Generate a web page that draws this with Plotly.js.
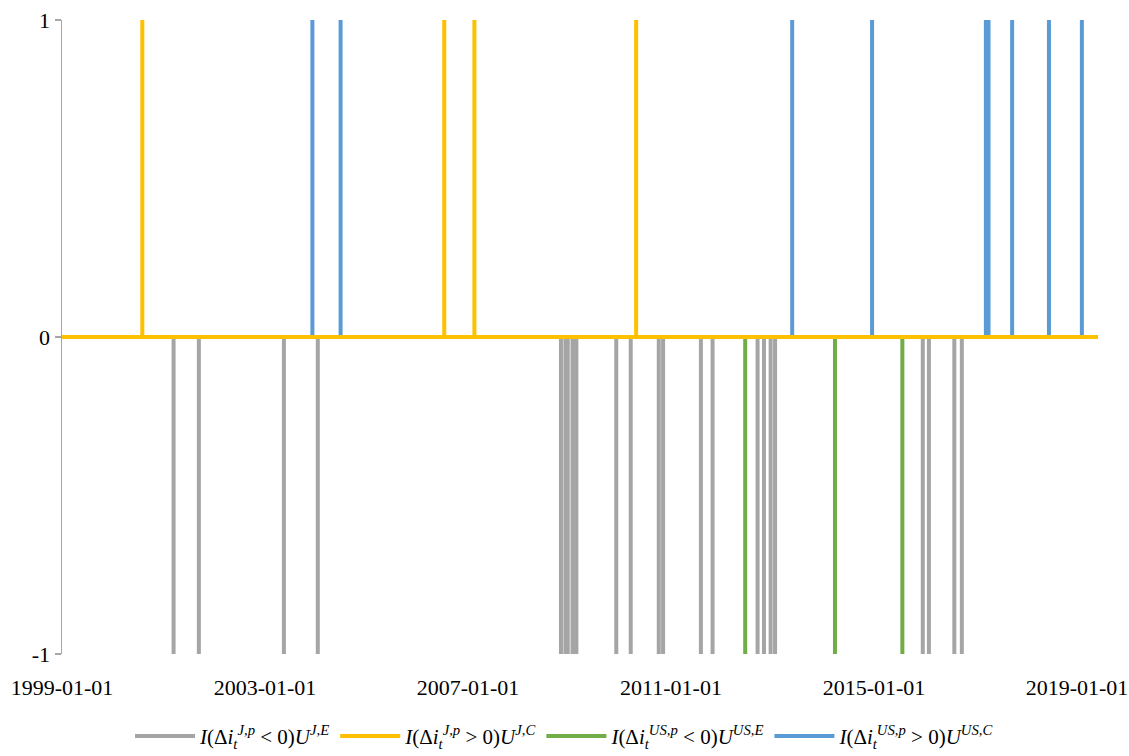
<!DOCTYPE html>
<html>
<head>
<meta charset="utf-8">
<script src="https://cdn.plot.ly/plotly-3.0.1.min.js"></script>
<style>html,body{margin:0;padding:0;background:#fff;}#chart{width:1129px;height:756px;}</style>
</head>
<body>
<div id="chart"></div>
<script>
// Axis span and tick labels
const startDate = '1999-01-01';
const endDate = '2019-06-01';
const tickDates = ['1999-01-01', '2003-01-01', '2007-01-01', '2011-01-01', '2015-01-01', '2019-01-01'];
const yTicks = [-1, 0, 1];

// Event dates (value -1 for easing surprises, +1 for tightening surprises)
const grayDates = ['2001-03-14', '2001-09-12', '2003-05-17', '2004-01-16',
  '2008-10-31', '2008-12-02', '2008-12-19', '2009-01-22', '2009-02-19',
  '2009-12-03', '2010-03-17', '2010-10-05', '2010-11-05',
  '2011-08-04', '2011-10-27', '2012-09-15', '2012-10-31', '2012-12-18', '2013-01-19',
  '2015-12-18', '2016-01-31', '2016-08-01', '2016-09-24'];
const grayValue = -1;
const yellowDates = ['2000-08-01', '2006-07-14', '2007-02-16', '2010-04-25'];
const yellowValue = 1;
const greenDates = ['2012-06-18', '2014-03-26', '2015-07-24'];
const greenValue = -1;
const blueDates = ['2003-12-08', '2004-06-28', '2013-05-22', '2014-12-18',
  '2017-03-16', '2017-04-04', '2017-09-21', '2018-06-13', '2019-02-05'];
const blueValue = 1;

const names = {
  gray: '<i>I</i>(Δ<i>i</i><sub><i>t</i></sub><sup><i>J,p</i></sup> &lt; 0)<i>U</i><sup><i>J,E</i></sup>',
  yellow: '<i>I</i>(Δ<i>i</i><sub><i>t</i></sub><sup><i>J,p</i></sup> &gt; 0)<i>U</i><sup><i>J,C</i></sup>',
  green: '<i>I</i>(Δ<i>i</i><sub><i>t</i></sub><sup><i>US,p</i></sup> &lt; 0)<i>U</i><sup><i>US,E</i></sup>',
  blue: '<i>I</i>(Δ<i>i</i><sub><i>t</i></sub><sup><i>US,p</i></sup> &gt; 0)<i>U</i><sup><i>US,C</i></sup>'
};

function spikes(dates, v) {
  const x = [startDate], y = [0];
  dates.forEach(d => { x.push(d, d, d); y.push(0, v, 0); });
  x.push(endDate); y.push(0);
  return {x, y};
}

function trace(dates, v, color, name, rank) {
  const s = spikes(dates, v);
  return {
    type: 'scatter', mode: 'lines', x: s.x, y: s.y, name: name,
    legendrank: rank, hoverinfo: 'skip',
    line: {color: color, width: 4, shape: 'linear'}
  };
}

const data = [
  trace(grayDates, grayValue, '#A5A5A5', names.gray, 1),
  trace(greenDates, greenValue, '#70AD47', names.green, 3),
  trace(blueDates, blueValue, '#5B9BD5', names.blue, 4),
  trace(yellowDates, yellowValue, '#FFC000', names.yellow, 2)
];

const serif = 'Liberation Serif, Times New Roman, serif';
const layout = {
  width: 1129, height: 756,
  margin: {l: 62, r: 31, t: 20, b: 102},
  paper_bgcolor: '#fff', plot_bgcolor: '#fff',
  showlegend: true,
  font: {family: serif, color: '#000', size: 22},
  xaxis: {
    type: 'date', range: [startDate, endDate], automargin: false,
    tickvals: tickDates, ticktext: tickDates, ticklabeloverflow: 'allow',
    showline: false, showgrid: false, zeroline: false,
    ticks: 'outside', ticklen: 14, tickcolor: 'rgba(0,0,0,0)',
    tickfont: {family: serif, size: 22, color: '#000'}
  },
  xaxis2: {
    type: 'date', overlaying: 'x', anchor: 'free', position: 0.5,
    range: [startDate, endDate], tickvals: tickDates,
    showticklabels: false, showline: false, showgrid: false, zeroline: false,
    ticks: 'outside', ticklen: 5, tickwidth: 1, tickcolor: '#000'
  },
  yaxis: {
    range: [-1, 1], automargin: false,
    tickvals: yTicks, ticktext: yTicks.map(String),
    showline: true, linecolor: '#A6A6A6', linewidth: 1.5,
    ticks: 'outside', ticklen: 6, tickcolor: '#A6A6A6', tickwidth: 1.5,
    showgrid: false, zeroline: false,
    tickfont: {family: serif, size: 22, color: '#000'}
  },
  legend: {
    orientation: 'h', xref: 'container', yref: 'container',
    x: 0.5, xanchor: 'center', y: 0.026, yanchor: 'middle',
    font: {family: serif, size: 21, color: '#000'},
    itemwidth: 60, bgcolor: 'rgba(0,0,0,0)'
  }
};

Plotly.newPlot('chart', data, layout, {displayModeBar: false, staticPlot: true});
</script>
</body>
</html>
